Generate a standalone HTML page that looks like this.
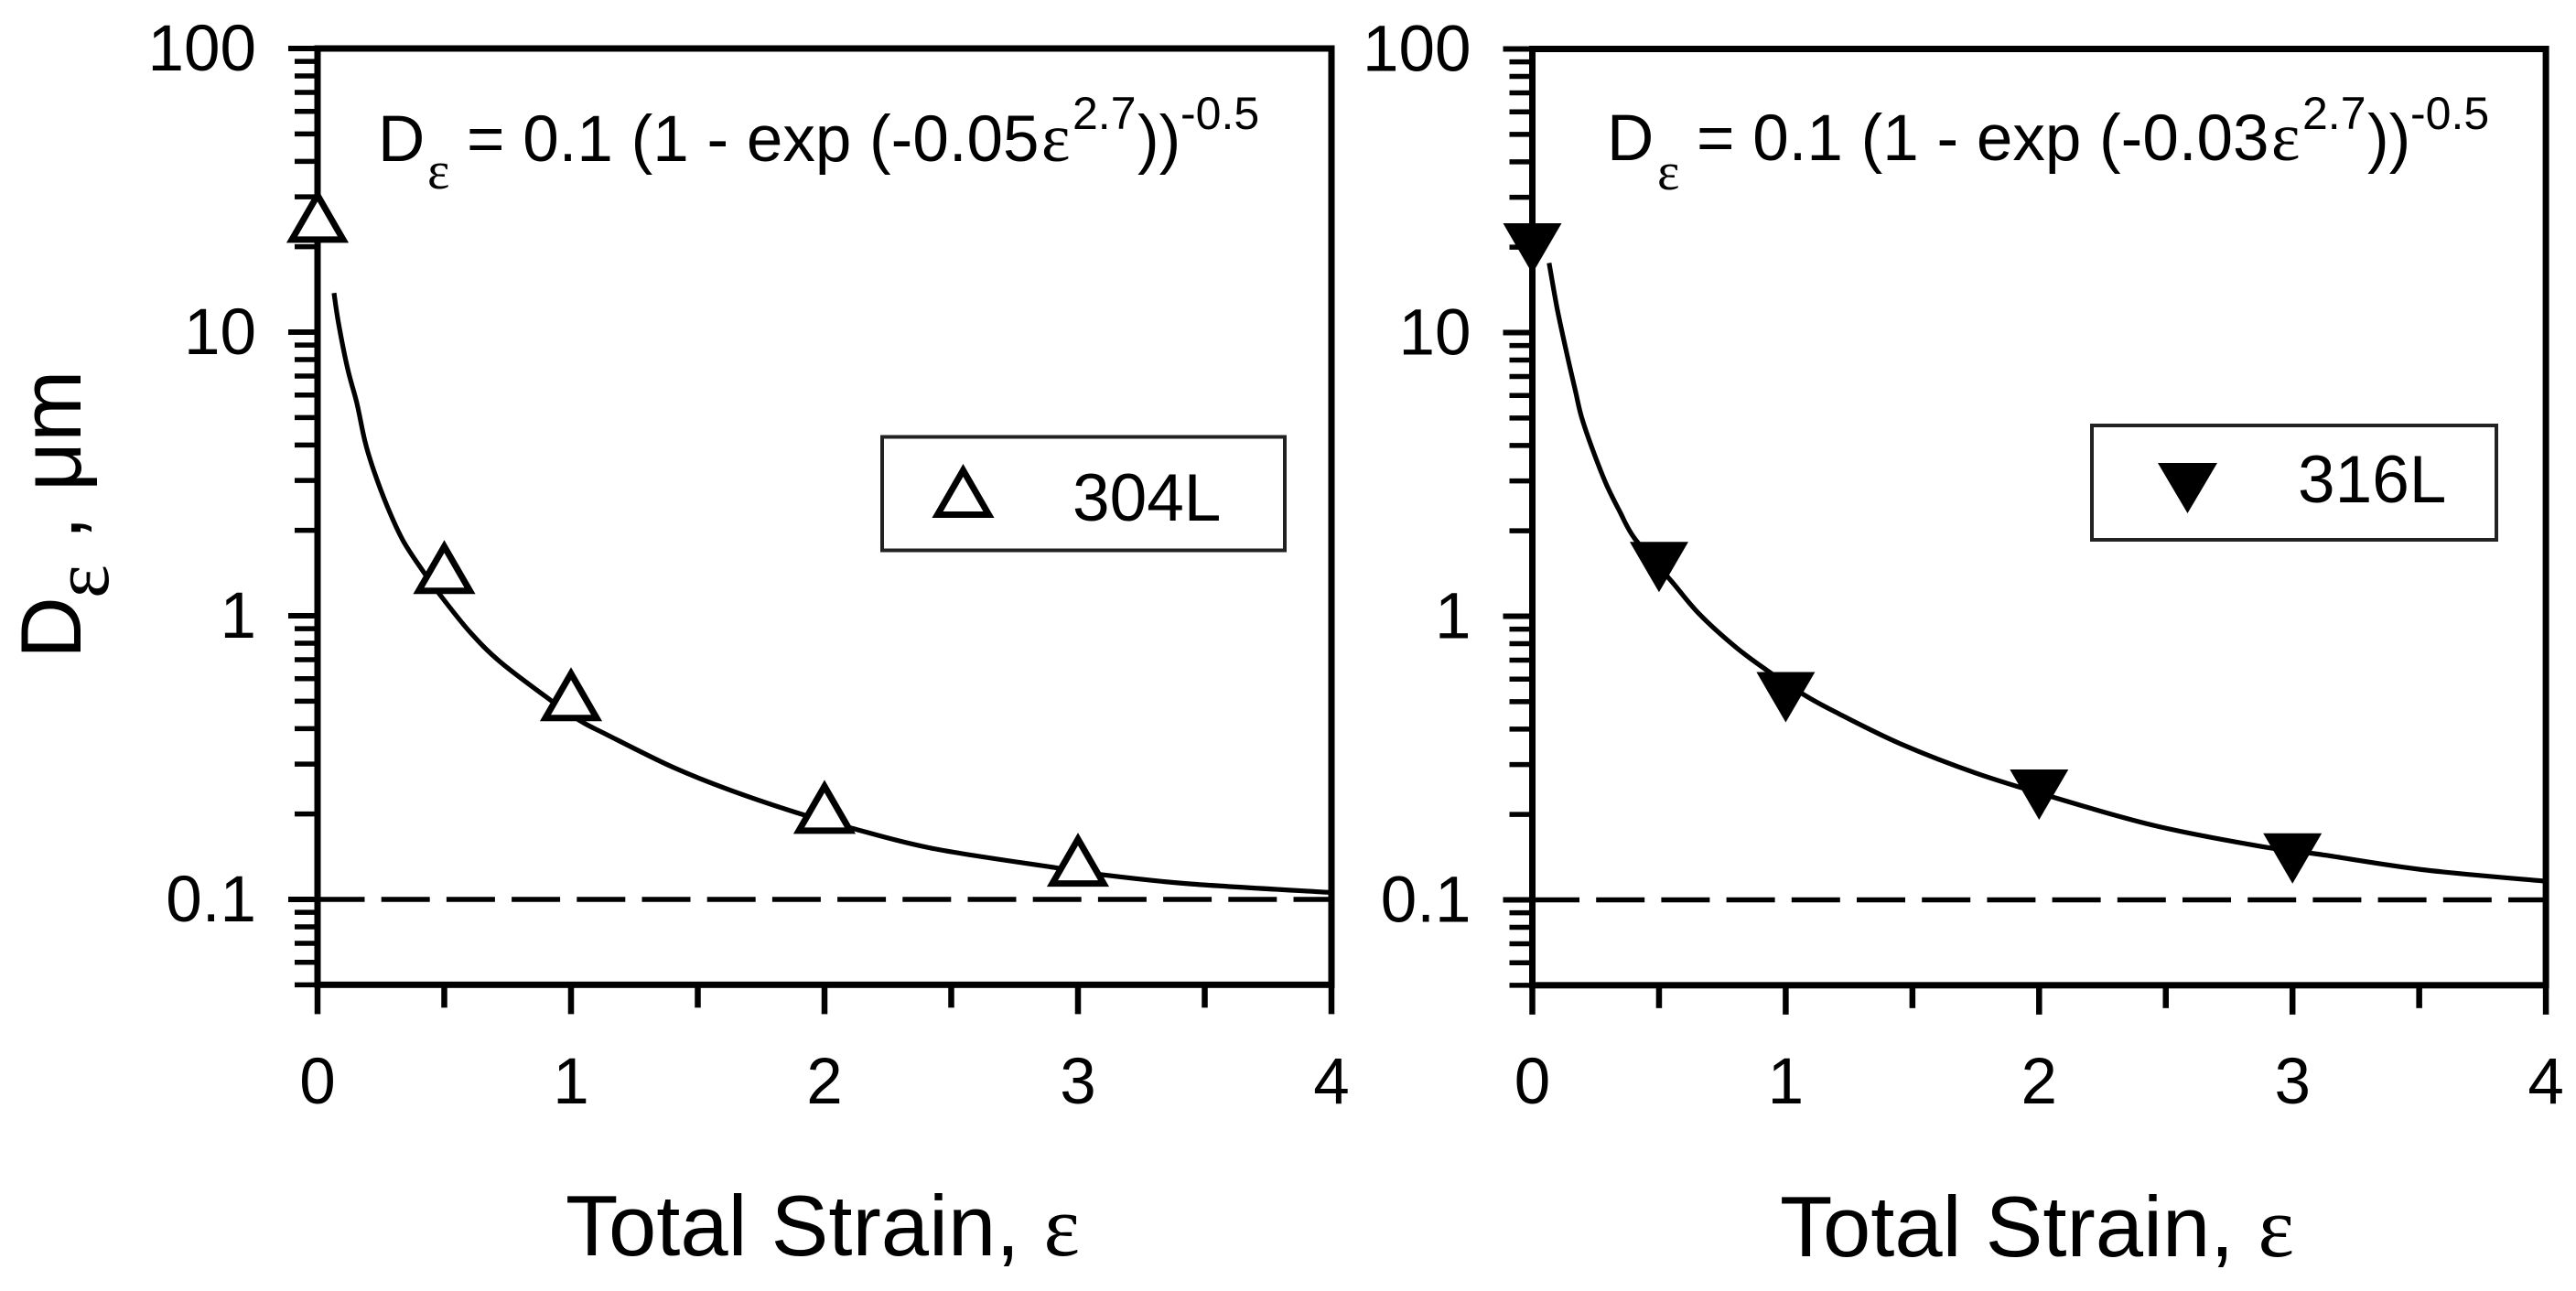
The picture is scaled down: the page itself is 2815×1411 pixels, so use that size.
<!DOCTYPE html>
<html lang="en">
<head>
<meta charset="utf-8">
<title>Grain size vs total strain</title>
<style>
html,body{margin:0;padding:0;background:#fff;}
svg{display:block;}
text{font-family:"Liberation Sans",sans-serif;fill:#000;}
.eps{font-family:"Liberation Serif",serif;}
.tick{font-size:71px;}
.legend-label{font-size:73px;}
.formula{font-size:71px;}
.sup{font-size:50px;}
.axis-title{font-size:94px;}
</style>
</head>
<body>
<svg id="chart" xmlns="http://www.w3.org/2000/svg" width="2815" height="1411" viewBox="0 0 2815 1411">
  <rect x="0" y="0" width="2815" height="1411" fill="#fff"/>
  <g id="panel-304"></g>
  <g id="panel-316"></g>

  <g>
    <text class="axis-title" transform="translate(88,720) rotate(-90)">D</text>
    <text class="axis-title eps" style="font-size:88px" transform="translate(118,654) rotate(-90)">ε</text>
    <text class="axis-title" transform="translate(88,590) rotate(-90)">,</text>
    <text class="axis-title" transform="translate(88,537) rotate(-90)">μm</text>
  </g>

  <text class="axis-title" x="618" y="1372">Total Strain, <tspan class="eps">ε</tspan></text>
  <text class="axis-title" x="1945" y="1373">Total Strain, <tspan class="eps">ε</tspan></text>

  <g>
    <text class="formula" x="413" y="176">D</text>
    <text class="eps" style="font-size:58px" x="467" y="206">ε</text>
    <text class="formula" x="510" y="176">= 0.1 (1 - exp (-0.05</text>
    <text class="eps" style="font-size:75px" x="1138" y="176">ε</text>
    <text class="sup" x="1172" y="141">2.7</text>
    <text class="formula" x="1243" y="176">))</text>
    <text class="sup" x="1290" y="141">-0.5</text>
  </g>
  <g>
    <text class="formula" x="1756" y="175">D</text>
    <text class="eps" style="font-size:58px" x="1811" y="207">ε</text>
    <text class="formula" x="1854" y="175">= 0.1 (1 - exp (-0.03</text>
    <text class="eps" style="font-size:75px" x="2482" y="175">ε</text>
    <text class="sup" x="2516" y="141">2.7</text>
    <text class="formula" x="2587" y="175">))</text>
    <text class="sup" x="2634" y="141">-0.5</text>
  </g>

  <g>
    <rect x="964" y="477.5" width="440" height="124" fill="#fff" stroke="#222" stroke-width="4"/>
    <polygon points="1052.5,514 1080.5,562.5 1024.5,562.5" fill="#fff" stroke="#000" stroke-width="7"/>
    <text class="legend-label" x="1172" y="569">304L</text>
  </g>
  <g>
    <rect x="2286" y="465" width="442" height="125" fill="#fff" stroke="#222" stroke-width="4"/>
    <polygon points="2358,506 2423,506 2390.5,561" fill="#000"/>
    <text class="legend-label" x="2511" y="549">316L</text>
  </g>
</svg>

<script>
// ---- chart data ----
const xMajorTicks = [0, 1, 2, 3, 4];
const xMinorTicks = [0.5, 1.5, 2.5, 3.5];
const yMajorTicks = [100, 10, 1, 0.1];
const yMajorLabels = ["100", "10", "1", "0.1"];
const yMinorTicks = [90, 80, 70, 60, 50, 40, 30, 20, 9, 8, 7, 6, 5, 4, 3, 2, 0.9, 0.8, 0.7, 0.6, 0.5, 0.4, 0.3, 0.2, 0.09, 0.08, 0.07, 0.06, 0.05];
const saturationSize = 0.1;

const strainMeasured = [0, 0.5, 1, 2, 3];
const sizeMeasured304 = [25.7, 1.485, 0.529, 0.212, 0.138];
const sizeMeasured316 = [19.8, 1.49, 0.518, 0.235, 0.14];

const curveStrain304 = [0.065, 0.083, 0.119, 0.155, 0.188, 0.221, 0.275, 0.336, 0.413, 0.485, 0.6, 0.721, 0.914, 1.033, 1.141, 1.4, 1.635, 1.915, 2.11, 2.43, 2.91, 3.1, 3.44, 4];
const curveSize304 = [13.73, 10.72, 7.41, 5.63, 4.09, 3.27, 2.43, 1.85, 1.45, 1.18, 0.879, 0.687, 0.508, 0.428, 0.381, 0.293, 0.2415, 0.199, 0.178, 0.151, 0.1294, 0.122, 0.1135, 0.1057];

const curveStrain316 = [0.066, 0.098, 0.134, 0.17, 0.194, 0.237, 0.291, 0.345, 0.405, 0.55, 0.658, 0.802, 0.923, 1.079, 1.212, 1.45, 1.75, 2.064, 2.458, 2.885, 3.1, 3.512, 4];
const curveSize316 = [17.6, 12.16, 8.6, 6.23, 5.05, 3.89, 2.93, 2.34, 1.875, 1.326, 1.02, 0.779, 0.647, 0.524, 0.452, 0.356, 0.28, 0.229, 0.1825, 0.1538, 0.145, 0.1278, 0.1163];

// ---- drawing ----
const SVG_NS = "http://www.w3.org/2000/svg";

function make(tag, parent, attrs) {
  const el = document.createElementNS(SVG_NS, tag);
  for (const k in attrs) el.setAttribute(k, attrs[k]);
  parent.appendChild(el);
  return el;
}

// Smooth path through the given screen points (Catmull-Rom to Bezier).
function smoothPath(pts) {
  let d = "M" + pts[0][0].toFixed(1) + " " + pts[0][1].toFixed(1);
  for (let i = 0; i < pts.length - 1; i++) {
    const p0 = pts[Math.max(i - 1, 0)], p1 = pts[i], p2 = pts[i + 1], p3 = pts[Math.min(i + 2, pts.length - 1)];
    const c1x = p1[0] + (p2[0] - p0[0]) / 6, c1y = p1[1] + (p2[1] - p0[1]) / 6;
    const c2x = p2[0] - (p3[0] - p1[0]) / 6, c2y = p2[1] - (p3[1] - p1[1]) / 6;
    d += " C" + c1x.toFixed(1) + " " + c1y.toFixed(1) + " " + c2x.toFixed(1) + " " + c2y.toFixed(1) + " " + p2[0].toFixed(1) + " " + p2[1].toFixed(1);
  }
  return d;
}

function drawPanel(groupId, frame, key, curveX, curveY, markX, markY, filled) {
  const g = document.getElementById(groupId);
  const xs = v => frame.x0 + frame.unit * v;
  const ys = v => frame.y1 - 310 * Math.log10(v);
  const top = ys(100), bottom = ys(0.05), left = xs(0), right = xs(4);

  xMajorTicks.forEach(v => {
    const t = make("line", g, { x1: xs(v), x2: xs(v), y1: bottom, y2: bottom + 32, stroke: "#000", "stroke-width": 6.5 });
    
    
    const lab = make("text", g, { class: "tick", x: xs(v), y: 1206, "text-anchor": "middle" });
    
    
    lab.textContent = String(v);
  });
  xMinorTicks.forEach(v => {
    const t = make("line", g, { x1: xs(v), x2: xs(v), y1: bottom, y2: bottom + 25, stroke: "#000", "stroke-width": 6.5 });
    
    
  });
  yMajorTicks.forEach((v, i) => {
    const t = make("line", g, { x1: left - 32, x2: left, y1: ys(v), y2: ys(v), stroke: "#000", "stroke-width": 6 });
    
    
    const lab = make("text", g, { class: "tick", x: left - 67, y: ys(v) + 24, "text-anchor": "end" });
    
    
    lab.textContent = yMajorLabels[i];
  });
  yMinorTicks.forEach(v => {
    const t = make("line", g, { x1: left - 25, x2: left, y1: ys(v), y2: ys(v), stroke: "#000", "stroke-width": 5.5 });
    
    
  });

  const box = make("rect", g, { x: left, y: top, width: right - left, height: bottom - top, fill: "none", stroke: "#000", "stroke-width": 7 });
  
  

  const dash = make("line", g, { x1: left - 1.5, x2: right, y1: ys(saturationSize), y2: ys(saturationSize), stroke: "#000", "stroke-width": 5.5, "stroke-dasharray": "53 18.2" });
  
  

  const curvePts = curveX.map((v, i) => [xs(v), ys(curveY[i])]);
  const curve = make("path", g, { d: smoothPath(curvePts), fill: "none", stroke: "#000", "stroke-width": 5.2, "stroke-linejoin": "round" });
  
  

  markX.forEach((v, i) => {
    const cx = xs(v), cy = ys(markY[i]);
    let pts, style;
    if (filled) {
      pts = [[cx - 32, cy - 27.5], [cx + 32, cy - 27.5], [cx, cy + 27.5]];
      style = { fill: "#000" };
    } else {
      pts = [[cx, cy - 22.5], [cx + 28, cy + 26], [cx - 28, cy + 26]];
      style = { fill: "#fff", stroke: "#000", "stroke-width": 7 };
    }
    const m = make("polygon", g, Object.assign({ points: pts.map(p => p.join(",")).join(" ") }, style));
    
    
  });
}

drawPanel("panel-304", { x0: 347, unit: 277, y1: 673 }, "304l", curveStrain304, curveSize304, strainMeasured, sizeMeasured304, false);
drawPanel("panel-316", { x0: 1674.5, unit: 276.9, y1: 673.5 }, "316l", curveStrain316, curveSize316, strainMeasured, sizeMeasured316, true);
</script>
</body>
</html>
